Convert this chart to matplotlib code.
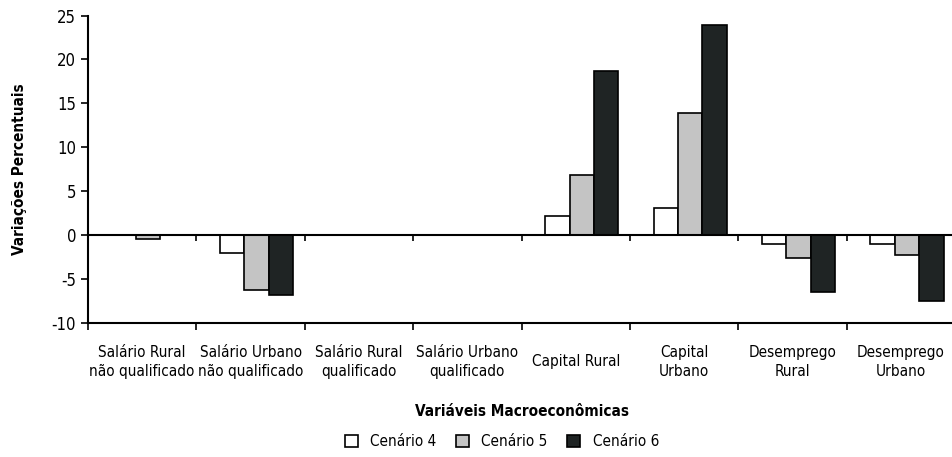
import matplotlib
matplotlib.use("Agg")
import matplotlib.pyplot as plt
from matplotlib.patches import Patch
import numpy as np

plt.rcParams["font.family"] = ["DejaVu Sans"]
plt.rcParams["font.stretch"] = "condensed"
plt.rcParams["axes.unicode_minus"] = False

# ── Data ──────────────────────────────────────────────────────────────────────
categories = [
    "Salário Rural\nnão qualificado",
    "Salário Urbano\nnão qualificado",
    "Salário Rural\nqualificado",
    "Salário Urbano\nqualificado",
    "Capital Rural",
    "Capital\nUrbano",
    "Desemprego\nRural",
    "Desemprego\nUrbano",
]
series_names = ["Cenário 4", "Cenário 5", "Cenário 6"]
cen4 = [0.0, -2.0, 0.0, 0.0, 2.2, 3.1, -0.95, -0.95]
cen5 = [-0.45, -6.2, 0.0, 0.0, 6.8, 13.9, -2.6, -2.2]
cen6 = [0.0, -6.8, 0.0, 0.0, 18.7, 23.9, -6.45, -7.5]

COLORS = ["#ffffff", "#c4c4c4", "#1f2424"]
BAR_W = 0.224
OFFSETS = [-0.17, 0.055, 0.28]

fig = plt.figure(figsize=(9.52, 4.57), dpi=100)
ax = fig.add_axes([0.0924, 0.293, 0.911, 0.673])

x = np.arange(len(categories))
for vals, off, col in zip([cen4, cen5, cen6], OFFSETS, COLORS):
    ax.bar(x + off, vals, width=BAR_W, color=col, edgecolor="black",
           linewidth=1.2, zorder=3)

ax.set_xlim(-0.5, len(categories) - 0.5)
ax.set_ylim(-10, 25)
ax.set_yticks(np.arange(-10, 26, 5))
ax.tick_params(axis="y", labelsize=12, length=5, width=1.2, direction="out")

# boundaries as major ticks, labels as minor ticks at centres
bounds = np.arange(len(categories) + 1) - 0.5
ax.set_xticks(bounds)
ax.set_xticklabels([])
ax.tick_params(axis="x", which="major", length=5, width=1.2, direction="out")
ax.set_xticks(x, minor=True)
ax.set_xticklabels(categories, minor=True, fontsize=11, linespacing=1.3)
ax.tick_params(axis="x", which="minor", length=0, pad=28)
for lab in ax.get_xticklabels(minor=True):
    lab.set_va("center")

# zero line with small ticks
ax.axhline(0, color="black", linewidth=1.5, zorder=4)
ax.vlines(bounds, -0.7, 0, color="black", linewidth=1.2, zorder=4)

for s in ["top", "right"]:
    ax.spines[s].set_visible(False)
for s in ["left", "bottom"]:
    ax.spines[s].set_linewidth(1.5)

ax.set_ylabel("Variações Percentuais", fontsize=11, fontweight="bold",
              labelpad=18)
ax.set_xlabel("Variáveis Macroeconômicas", fontsize=11, fontweight="bold",
              labelpad=18)

handles = [Patch(facecolor=c, edgecolor="black", linewidth=1.2) for c in COLORS]
fig.legend(handles, series_names, loc="center", bbox_to_anchor=(0.527, 0.033),
           ncol=3, frameon=False, fontsize=11, handlelength=0.85,
           handleheight=0.85, columnspacing=1.3, handletextpad=0.8)

fig.savefig("out.png", dpi=100, facecolor="white")
plt.close(fig)
